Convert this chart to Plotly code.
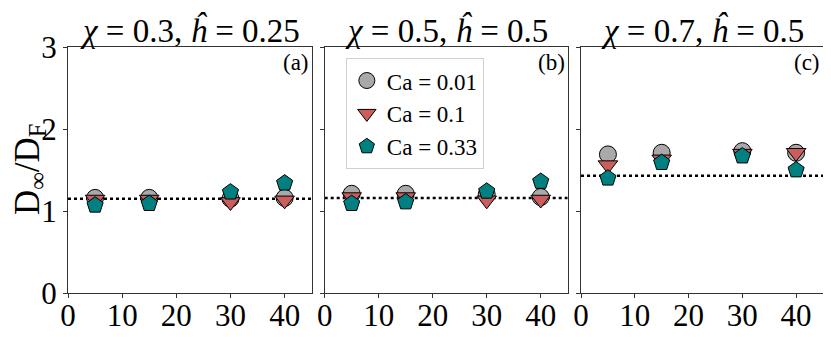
import plotly.graph_objects as go

# x positions shared by all panels
x_vals = [5, 15, 30, 40]

# D_inf / D_F for each panel (a, b, c) and capillary number
ca001 = [[1.16, 1.16, 1.15, 1.16], [1.21, 1.21, 1.20, 1.17], [1.69, 1.71, 1.73, 1.71]]
ca01 = [[1.14, 1.14, 1.11, 1.13], [1.17, 1.17, 1.13, 1.14], [1.56, 1.63, 1.70, 1.71]]
ca033 = [[1.07, 1.09, 1.23, 1.34], [1.09, 1.11, 1.24, 1.36], [1.40, 1.59, 1.67, 1.50]]
ref_line = [1.15, 1.16, 1.43]

titles = ["<i>χ</i> = 0.3, <i>ĥ</i> = 0.25", "<i>χ</i> = 0.5, <i>ĥ</i> = 0.5", "<i>χ</i> = 0.7, <i>ĥ</i> = 0.5"]
tags = ["(a)", "(b)", "(c)"]
x_ticks = [0, 10, 20, 30, 40]
y_ticks = [0, 1, 2, 3]

series = [
    ("Ca = 0.01", ca001, "circle", "#a9a9a9"),
    ("Ca = 0.1", ca01, "triangle-down", "#cd5c5c"),
    ("Ca = 0.33", ca033, "pentagon", "#008080"),
]

font = "Liberation Serif"
domains = [[0, 0.3228], [0.340, 0.6619], [0.6795, 1.0]]

fig = go.Figure()
for p in range(3):
    ax = "" if p == 0 else str(p + 1)
    fig.add_trace(go.Scatter(x=[0, 45], y=[ref_line[p]] * 2, mode="lines",
                             line=dict(color="black", width=2.5, dash="dot"),
                             xaxis="x" + ax, yaxis="y" + ax, showlegend=False))
    for name, vals, sym, col in series:
        fig.add_trace(go.Scatter(x=x_vals, y=vals[p], mode="markers", name=name,
                                 marker=dict(symbol=sym, size=17, color=col,
                                             line=dict(color="black", width=1)),
                                 xaxis="x" + ax, yaxis="y" + ax, showlegend=(p == 0)))

axis_style = dict(showline=True, linecolor="#333", linewidth=1, mirror=True,
                  ticks="outside", ticklen=4, tickcolor="#333", showgrid=False,
                  zeroline=False, automargin=False,
                  tickfont=dict(family=font, size=31, color="black"))

# page body adds an 8px offset, so the figure is 8px smaller each way
layout = dict(
    width=823, height=329,
    margin=dict(l=60, r=8, t=39, b=44),
    plot_bgcolor="white", paper_bgcolor="white",
    font=dict(family=font, color="black"),
    legend=dict(x=0.368, y=0.955, xanchor="left", yanchor="top",
                bgcolor="white", bordercolor="#d0d0d0", borderwidth=1,
                font=dict(family=font, size=23), tracegroupgap=0,
                itemwidth=30),
    annotations=[],
)
for p in range(3):
    ax = "" if p == 0 else str(p + 1)
    layout["xaxis" + ax] = dict(axis_style, domain=domains[p], range=[0, 45],
                                tickvals=x_ticks, anchor="y" + ax, ticklabelstandoff=-9)
    layout["yaxis" + ax] = dict(axis_style, range=[0, 3], tickvals=y_ticks,
                                anchor="x" + ax, showticklabels=(p == 0))
    mid = (domains[p][0] + domains[p][1]) / 2
    layout["annotations"].append(dict(text=titles[p], x=mid, y=1.0, xref="paper", yref="paper",
                                      xanchor="center", yanchor="bottom", showarrow=False,
                                      font=dict(family=font, size=33), yshift=-4))
    layout["annotations"].append(dict(text=tags[p], x=domains[p][1], y=1.0, xref="paper", yref="paper",
                                      xanchor="right", yanchor="top", showarrow=False,
                                      font=dict(family=font, size=23), xshift=-1, yshift=-1))

layout["annotations"].append(dict(text="D<sub>∞</sub>/D<sub>F</sub>", x=0, y=0.5, xref="paper",
                                  yref="paper", xanchor="center", yanchor="middle", textangle=-90,
                                  showarrow=False, xshift=-39, font=dict(family=font, size=35)))

fig.update_layout(**layout)
fig.write_html("out.html")
